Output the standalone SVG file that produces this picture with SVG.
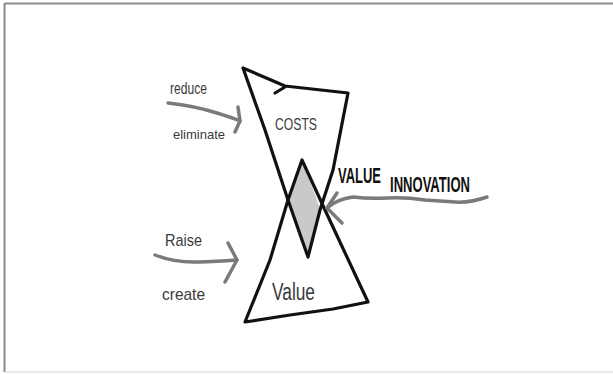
<svg xmlns="http://www.w3.org/2000/svg" width="613" height="374" viewBox="0 0 613 374">
<style>
.frame{stroke:#8a8a8a;stroke-width:2;fill:none}
.shape{fill:none;stroke:#111;stroke-width:3.2;stroke-linejoin:round;stroke-linecap:round}
.overlap{fill:#c9c9c9;stroke:none}
.arrow{fill:none;stroke:#7a7a7a;stroke-width:3.5;stroke-linecap:round;stroke-linejoin:round}
.lbl{font-family:"Liberation Sans",Arial,sans-serif;fill:#3a3a3a}
.big{font-family:"Liberation Sans",Arial,sans-serif;fill:#111;font-weight:bold;font-size:13px}
</style>
<rect width="613" height="374" fill="#fff"/>
<path class="frame" d="M5 3.5 H613 M4.5 3 V372"/>
<path d="M5 372 H613" stroke="#e2e2e2" stroke-width="1.5"/>

<g id="overlap">
  <polygon class="overlap" points="302,160 288,200 308,257 320,208"/>
</g>

<g id="costs">
  <path class="shape" d="M243,68 L285,86 L348,93 L333,170 L320,210 L308,257 L288,200 L265,130 Z"/>
  <path class="shape" d="M275,93 L285,87"/>
  <text class="lbl" x="275" y="130" font-size="17" textLength="42" lengthAdjust="spacingAndGlyphs">COSTS</text>
</g>

<g id="value">
  <path class="shape" d="M302,160 L325,210 L368,302 L333,309 L290,315 L245,322 L270,260 L288,200 Z"/>
  <text class="lbl" x="272" y="300" font-size="23" textLength="43" lengthAdjust="spacingAndGlyphs">Value</text>
</g>

<g id="value-innovation-label">
  <text class="big" transform="translate(338 183) scale(1 1.75)" textLength="43" lengthAdjust="spacingAndGlyphs">VALUE</text>
  <text class="big" transform="translate(390 192) scale(1 1.75)" textLength="80" lengthAdjust="spacingAndGlyphs">INNOVATION</text>
</g>

<g id="connectors">
  <g id="arrow-reduce">
    <path class="arrow" d="M168,103 Q195,106 217,113 T240,121"/>
    <path class="arrow" d="M238,107 L240,121 L235,132"/>
    <text class="lbl" x="170" y="94" font-size="16" textLength="37" lengthAdjust="spacingAndGlyphs">reduce</text>
    <text class="lbl" x="173" y="139" font-size="13" textLength="52" lengthAdjust="spacingAndGlyphs">eliminate</text>
  </g>
  <g id="arrow-raise">
    <path class="arrow" d="M155,255 Q175,263 200,262 T237,260"/>
    <path class="arrow" d="M228,243 L237,260 L225,282"/>
    <text class="lbl" x="165" y="246" font-size="17" textLength="37" lengthAdjust="spacingAndGlyphs">Raise</text>
    <text class="lbl" x="162" y="300" font-size="17" textLength="43" lengthAdjust="spacingAndGlyphs">create</text>
  </g>
  <g id="arrow-innovation">
    <path class="arrow" d="M487,197 Q470,203 455,202 T425,200 Q405,197 387,198 T353,197 Q337,199 327,208"/>
    <path class="arrow" d="M337,193 L327,208 L342,223"/>
  </g>
</g>
</svg>
